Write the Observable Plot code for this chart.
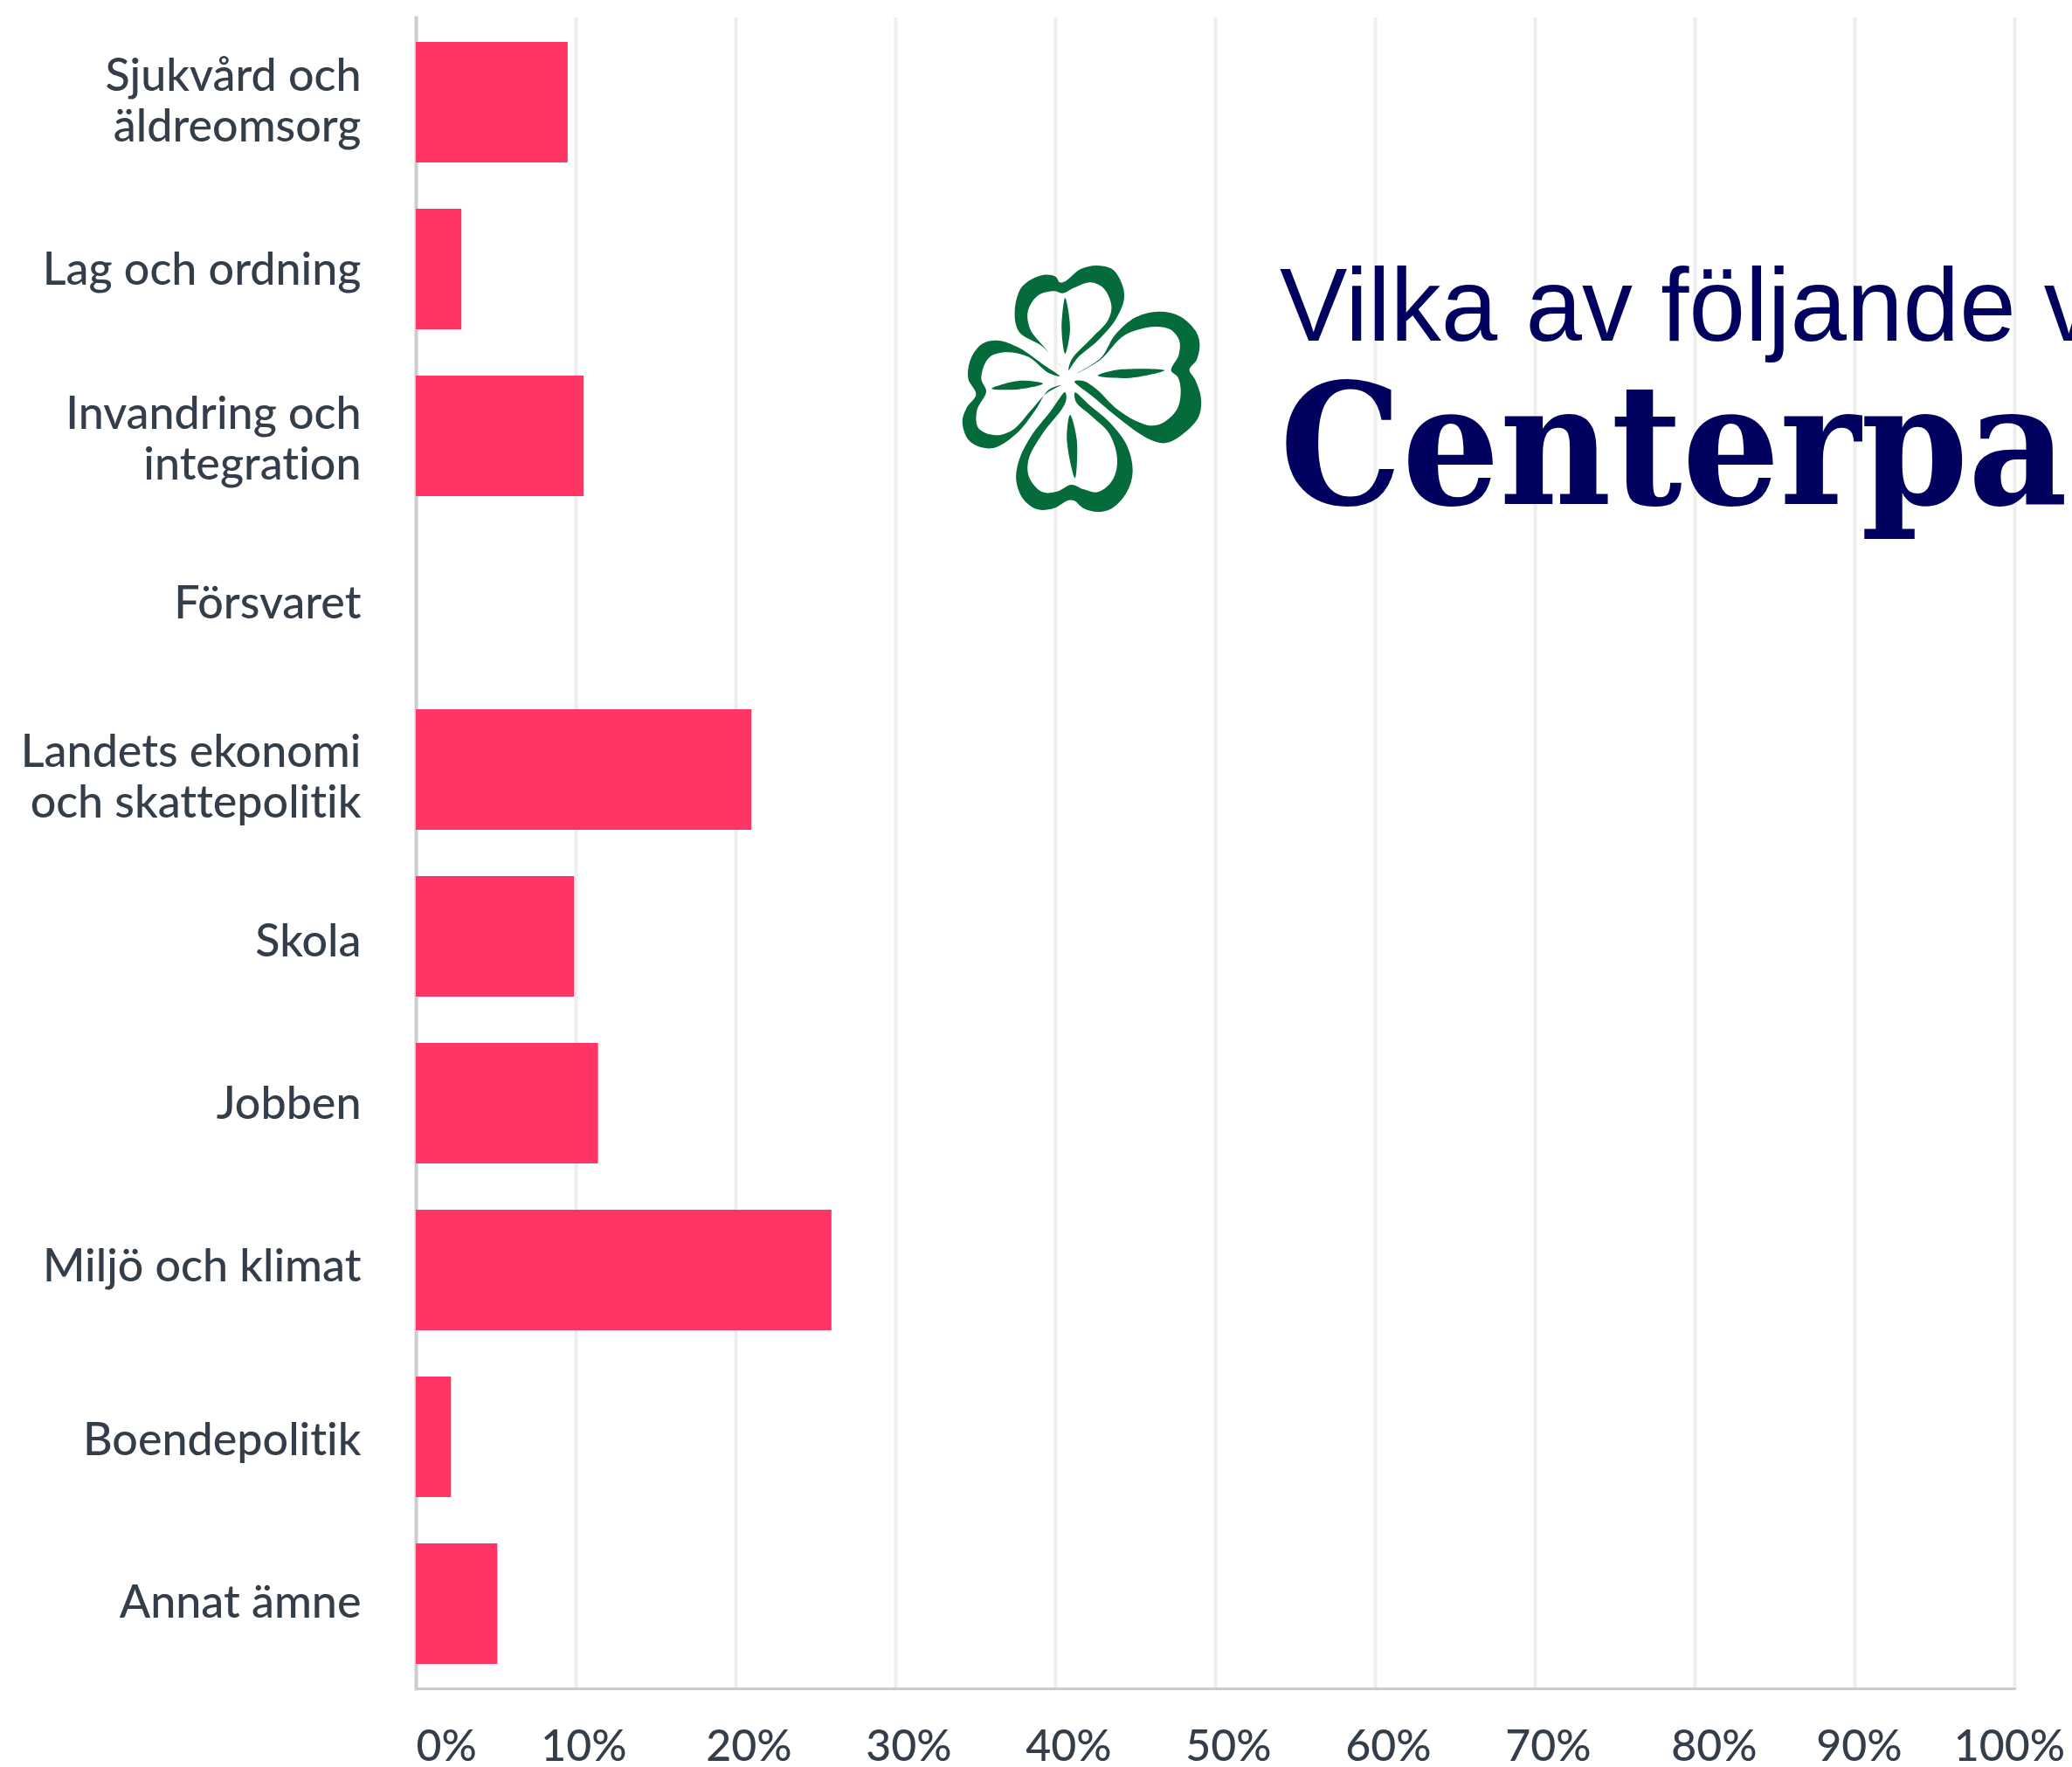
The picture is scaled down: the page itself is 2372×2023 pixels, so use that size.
<!DOCTYPE html>
<html lang="sv">
<head>
<meta charset="utf-8">
<script src="https://cdn.jsdelivr.net/npm/d3@7"></script>
<script src="https://cdn.jsdelivr.net/npm/@observablehq/plot@0.6"></script>
<style>
html,body{margin:0;padding:0;background:#fff;width:2372px;height:2023px;overflow:hidden}
#wrap{position:relative;width:2372px;height:2023px;overflow:hidden}
#wrap svg text{font-variant-ligatures:none;paint-order:stroke}
#logo{position:absolute;left:1060px;top:270px}
.t{position:absolute;left:1465px;white-space:nowrap;color:#00005f;transform-origin:0 0}
#t1{top:280px;font:116px "Liberation Sans",sans-serif;transform:scale(1,1.03)}
#t2{top:396px;font:bold 193px "DejaVu Serif",serif}
</style>
</head>
<body>
<div id="wrap"></div>
<script>
const categories = ["Sjukvård och\näldreomsorg","Lag och ordning","Invandring och\nintegration","Försvaret","Landets ekonomi\noch skattepolitik","Skola","Jobben","Miljö och klimat","Boendepolitik","Annat ämne"];
const values = [9.5,2.85,10.5,0,21,9.9,11.4,26,2.2,5.1];
const gridTicks = [10,20,30,40,50,60,70,80,90,100];
const firstTick = [0];
const middleTicks = [20,30,40,50,60,70];
const titleLine = "Vilka av följande v";
const partyLine = "Centerpa";

const rows = categories.map((c,i)=>({c,v:values[i]}));
const fmt = d=>d+"%";
const textColor = "#343e4a";
const axisX = (ticks,opts)=>Plot.axisX({ticks,tickFormat:fmt,tickSize:0,tickPadding:47,anchor:"bottom",fill:textColor,fontSize:50,fontWeight:500,stroke:textColor,strokeWidth:0.8,label:null,...opts});
const axisY = (i,dy)=>Plot.axisY({ticks:i.map(k=>categories[k]),dy,tickSize:0,tickPadding:63,fill:textColor,fontSize:52,fontWeight:500,stroke:textColor,strokeWidth:0.8,lineHeight:1.115,label:null});

const chart = Plot.plot({
  width:2372,height:2023,
  marginLeft:476,marginRight:66,marginTop:20,marginBottom:90,
  style:{fontFamily:"Lato, sans-serif",background:"transparent"},
  x:{domain:[0,100]},
  y:{domain:categories,paddingInner:0.277,paddingOuter:0.1385},
  marks:[
    Plot.gridX({ticks:gridTicks,stroke:"#eeeeee",strokeOpacity:1,strokeWidth:4}),
    Plot.frame({anchor:"left",stroke:"#cccccc",strokeWidth:4}),
    Plot.frame({anchor:"bottom",stroke:"#cccccc",strokeWidth:3}),
    Plot.barX(rows,{x:"v",y:"c",fill:"#ff3566"}),
    axisY([1,3,6],-1.5),
    axisY([0,9],-3.5),
    axisY([2,8],1.5),
    axisY([4],6.5),
    axisY([5],3.5),
    axisY([7],-6),
    axisX(firstTick,{textAnchor:"start"}),
    axisX([10],{dx:9}),
    axisX(middleTicks,{dx:15}),
    axisX([80],{dx:22}),
    axisX([90],{dx:5}),
    axisX([100],{dx:-6})
  ]
});
const wrap = document.getElementById("wrap");
wrap.appendChild(chart);

// Clover logo (party emblem, not chart data)
const leaves = [
 [[465,450],[400,380],[320,330],[305,260],[330,175],[400,135],[445,140],[460,160],[480,155],[530,115],[585,102],[640,115],[675,170],[680,220],[650,290],[590,360],[520,420],[490,462],[500,425],[570,350],[625,290],[637,240],[610,180],[565,160],[510,178],[470,197],[440,190],[385,205],[350,260],[358,320],[400,375]],
 [[518,472],[600,420],[650,340],[720,280],[800,260],[870,275],[925,325],[940,370],[930,425],[905,460],[925,495],[945,560],[935,625],[870,690],[820,712],[760,695],[660,625],[570,550],[510,500],[540,498],[590,530],[650,590],[720,635],[780,652],[825,635],[865,590],[875,530],[865,485],[842,462],[868,410],[870,360],[840,322],[790,312],[720,325],[670,350],[600,425]],
 [[478,537],[430,600],[360,690],[320,770],[310,840],[335,905],[385,940],[440,935],[490,908],[510,910],[540,935],[590,948],[640,935],[690,880],[710,810],[690,720],[630,640],[560,580],[512,538],[515,570],[570,620],[630,680],[657,770],[640,840],[590,880],[540,870],[500,855],[450,878],[400,880],[355,830],[352,770],[400,680],[470,590],[482,560]],
 [[465,512],[420,530],[375,600],[310,680],[225,730],[150,705],[125,640],[140,590],[172,545],[145,490],[155,420],[195,370],[250,360],[320,385],[400,440],[460,482],[420,470],[350,415],[270,400],[215,420],[190,490],[207,535],[175,600],[180,660],[240,685],[300,665],[360,600],[415,540]],
 [[478,213],[495,320],[478,405],[466,320]],
 [[590,480],[660,460],[820,462],[700,488]],
 [[495,615],[518,700],[512,832],[484,700]],
 [[225,525],[320,498],[402,508],[320,527]]
];
const line = d3.line().curve(d3.curveCatmullRomClosed.alpha(0.5));
const svg = d3.create("svg").attr("id","logo").attr("width",420).attr("height",340).attr("viewBox","0 0 1260 1020");
svg.selectAll("path").data(leaves).join("path").attr("d",d=>line(d)).attr("fill","#066b3a");
wrap.appendChild(svg.node());

for (const [id,txt] of [["t1",titleLine],["t2",partyLine]]) {
  const d = document.createElement("div");
  d.id=id; d.className="t"; d.textContent=txt;
  wrap.appendChild(d);
}
// fit the slab headline to the reference width
const t2 = document.getElementById("t2");
const w = t2.getBoundingClientRect().width;
t2.style.transform = `scaleX(${902/w})`;
</script>
</body>
</html>
